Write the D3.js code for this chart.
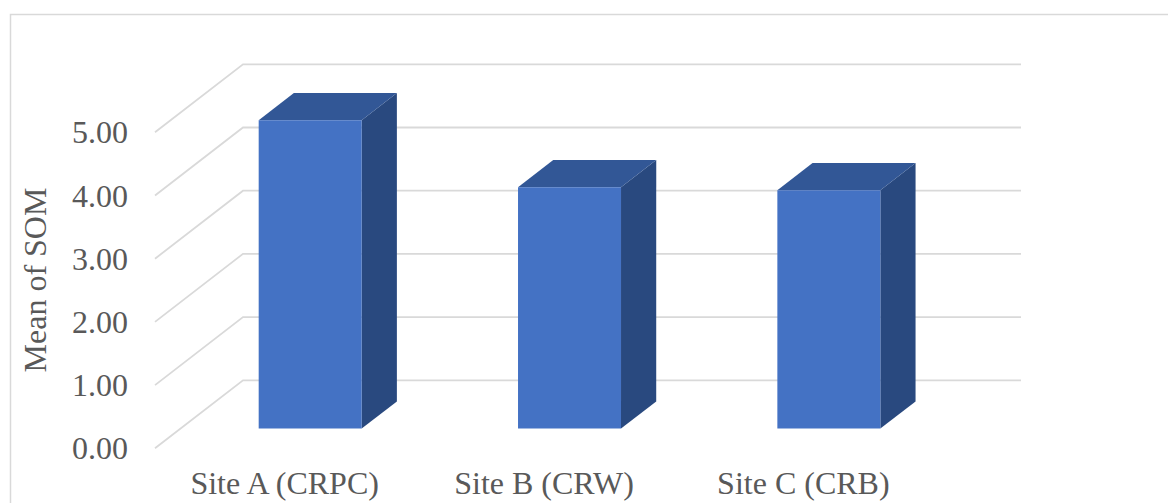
<!DOCTYPE html>
<html>
<head>
<meta charset="utf-8">
<script src="https://cdn.jsdelivr.net/npm/d3@7"></script>
<style>
  html, body { margin: 0; padding: 0; background: #fff; }
  svg { display: block; }
  text { font-family: "Liberation Serif", "Times New Roman", serif; fill: #595959; }
</style>
</head>
<body>
<svg id="chart" width="1168" height="503"></svg>
<script>
// Mean soil organic matter per site
const categories = ["Site A (CRPC)", "Site B (CRW)", "Site C (CRB)"];
const somMeans = [4.88, 3.82, 3.77];
const tickValues = [0, 1, 2, 3, 4, 5];
const yTitle = "Mean of SOM";

const W = 1168, H = 503;
const svg = d3.select("#chart");

// Oblique 3D projection: front plane of the floor plus a depth vector
const frontLeft = 155, frontRight = 933;
const depth = { dx: 88, dy: -68 };
const y = d3.scaleLinear().domain([0, 5]).range([448.3, 132.3]);
const x = d3.scaleBand().domain(categories).range([frontLeft, frontRight]).paddingInner(0).paddingOuter(0);
const proj = (px, v, d) => [px + depth.dx * d, y(v) + depth.dy * d];

// Chart frame
svg.append("path")
  .attr("d", `M10.5,${H} L10.5,14.5 L${W},14.5`)
  .attr("fill", "none").attr("stroke", "#d9d9d9").attr("stroke-width", 1.5);

// Gridlines along side wall and back wall
const grid = svg.append("g");
tickValues.forEach(v => {
  const a = proj(frontLeft, v, 0), b = proj(frontLeft, v, 1), c = proj(frontRight, v, 1);
  grid.append("polyline")
    .attr("points", [a, b, c].map(p => p.join(",")).join(" "))
    .attr("fill", "none").attr("stroke", "#d9d9d9").attr("stroke-width", 1.8);
});

// Tick labels
svg.append("g").selectAll("text").data(tickValues).join("text")
  .attr("x", 128).attr("y", v => y(v) + 11)
  .attr("text-anchor", "end").attr("font-size", 32)
  .text(v => v.toFixed(2));

// Axis title
svg.append("text")
  .attr("transform", "translate(46,280) rotate(-90)")
  .attr("text-anchor", "middle").attr("font-size", 32)
  .text(yTitle);

// 3D bars
const barW = 103, d0 = 0.29, d1 = 0.69;
const bars = svg.append("g");
categories.forEach((cat, i) => {
  const v = somMeans[i];
  const cx = x(cat) + x.bandwidth() / 2;
  const l = cx - barW / 2, r = cx + barW / 2;
  const poly = pts => pts.map(p => p.join(",")).join(" ");
  // right side face
  bars.append("polygon")
    .attr("points", poly([proj(r, 0, d0), proj(r, v, d0), proj(r, v, d1), proj(r, 0, d1)]))
    .attr("fill", "#29497f");
  // top face
  bars.append("polygon")
    .attr("points", poly([proj(l, v, d0), proj(r, v, d0), proj(r, v, d1), proj(l, v, d1)]))
    .attr("fill", "#325796");
  // front face
  bars.append("polygon")
    .attr("points", poly([proj(l, 0, d0), proj(r, 0, d0), proj(r, v, d0), proj(l, v, d0)]))
    .attr("fill", "#4472c4");
});

// Category labels
svg.append("g").selectAll("text").data(categories).join("text")
  .attr("x", d => x(d) + x.bandwidth() / 2).attr("y", 494)
  .attr("text-anchor", "middle").attr("font-size", 32)
  .text(d => d);
</script>
</body>
</html>
